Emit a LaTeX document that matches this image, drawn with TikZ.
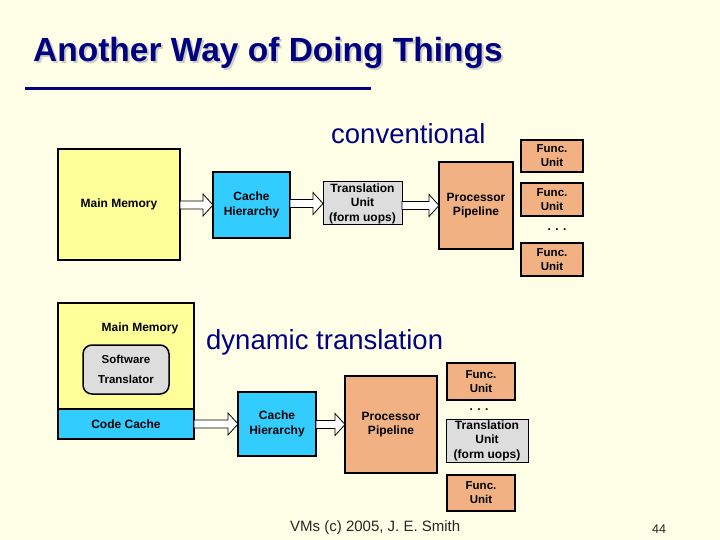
\documentclass[tikz,border=0pt]{standalone}
\usepackage{fontspec}
\setmainfont{Liberation Sans}
\usetikzlibrary{calc}
\definecolor{bg}{RGB}{255,255,232}
\definecolor{navy}{RGB}{0,0,128}
\definecolor{memyel}{RGB}{255,255,153}
\definecolor{cblue}{RGB}{51,204,255}
\definecolor{porange}{RGB}{241,177,130}
\definecolor{tgray}{RGB}{221,221,221}
\definecolor{shadowc}{RGB}{205,205,195}
\newcommand\blockarr[2]{%
  \draw[barrow] let \p1=(#1.east), \p2=(#2.west) in
    (\x1,\y2+4pt) -- (\x2-10pt,\y2+4pt) -- (\x2-10pt,\y2+11pt) -- (\x2,\y2)
    -- (\x2-10pt,\y2-11pt) -- (\x2-10pt,\y2-4pt) -- (\x1,\y2-4pt) -- cycle;}
\begin{document}
\begin{tikzpicture}[x=1pt,y=-1pt,
  box/.style={draw=black, line width=1.5pt, inner sep=1pt, outer sep=0pt,
    align=center, anchor=north west,
    font=\fontsize{12}{14.5}\selectfont\bfseries},
  fbox/.style={box, fill=porange, font=\fontsize{11.5}{14}\selectfont\bfseries},
  barrow/.style={draw=black, fill=white, line width=0.8pt, line join=miter},
  big/.style={text=navy, font=\fontsize{27.5}{30}\selectfont, inner sep=0pt},
  plain/.style={inner sep=0pt, font=\fontsize{12}{14.5}\selectfont\bfseries}]
\useasboundingbox (0,0) rectangle (720,540);
\fill[bg] (0,0) rectangle (720,540);
% title
\node[text=shadowc, font=\fontsize{33.5}{36}\selectfont\bfseries, inner sep=0pt, anchor=west] (tsh) at (35,55) {Another Way of Doing Things};
\node[text=navy, font=\fontsize{33.5}{36}\selectfont\bfseries, inner sep=0pt, anchor=west] (title) at (33,53) {Another Way of Doing Things};
\coordinate (ul1) at (25,89);
\coordinate (ul2) at (371,89);
\draw[navy, line width=3pt] (ul1) -- (ul2);
% conventional
\node[big, anchor=west] (conv) at (331,134) {conventional};
\node[box, fill=memyel, minimum width=122pt, minimum height=111pt] (mm1) at (58,149) {Main Memory};
\node[box, fill=cblue, minimum width=77pt, minimum height=66pt] (ch1) at (213,172) {Cache\\Hierarchy};
\node[box, fill=tgray, minimum width=79pt, minimum height=43pt, line width=1pt] (tu1) at (323,182) {Translation\\Unit\\(form uops)};
\node[box, fill=porange, minimum width=74pt, minimum height=87pt] (pp1) at (439,162) {Processor\\Pipeline};
\node[fbox, minimum width=62pt, minimum height=32pt] (fu1) at (521,140) {Func.\\Unit};
\node[fbox, minimum width=62pt, minimum height=33pt] (fu2) at (521,183) {Func.\\Unit};
\node[plain] (dots1) at (557,230) {. . .};
\node[fbox, minimum width=62pt, minimum height=33pt] (fu3) at (521,243) {Func.\\Unit};
\blockarr{mm1}{ch1}
\blockarr{ch1}{tu1}
\blockarr{tu1}{pp1}
% dynamic translation
\node[big, anchor=west] (dyn) at (206,342) {dynamic translation};
\node[box, fill=memyel, minimum width=136pt, minimum height=106pt] (mm2) at (58,303) {};
\node[plain] (mm2l) at (140,328) {Main Memory};
\node[box, fill=tgray, rounded corners=9pt, minimum width=86pt, minimum height=49pt, font=\fontsize{11.5}{20}\selectfont\bfseries] (st) at (83,345) {Software\\Translator};
\node[box, fill=cblue, minimum width=136pt, minimum height=30pt] (cc) at (58,409) {Code Cache};
\node[box, fill=cblue, minimum width=78pt, minimum height=64pt] (ch2) at (238,392) {Cache\\Hierarchy};
\node[box, fill=porange, minimum width=92pt, minimum height=97pt] (pp2) at (345,376) {Processor\\Pipeline};
\node[fbox, minimum width=68pt, minimum height=37pt] (fu4) at (447,363) {Func.\\Unit};
\node[plain] (dots2) at (479,410) {. . .};
\node[box, fill=tgray, minimum width=82pt, minimum height=43pt, line width=1pt] (tu2) at (446,419) {Translation\\Unit\\(form uops)};
\node[fbox, minimum width=68pt, minimum height=36pt] (fu5) at (447,475) {Func.\\Unit};
\blockarr{cc}{ch2}
\blockarr{ch2}{pp2}
% footer
\node[inner sep=0pt, font=\fontsize{15}{16}\selectfont, text=black!85, anchor=west] (foot) at (290,528) {VMs (c) 2005, J. E. Smith};
\node[inner sep=0pt, font=\fontsize{12.5}{14}\selectfont, text=black!85, anchor=west] (pg) at (652,529) {44};
\end{tikzpicture}
\end{document}
